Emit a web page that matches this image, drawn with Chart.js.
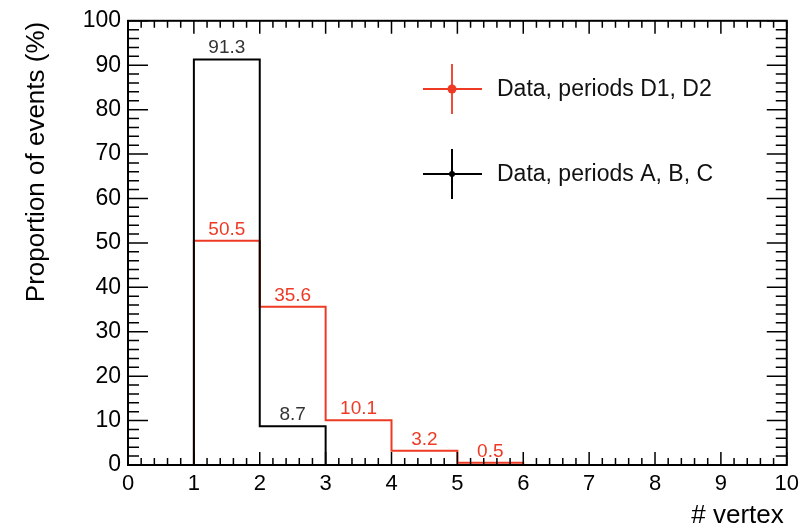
<!DOCTYPE html>
<html>
<head>
<meta charset="utf-8">
<script src="https://cdn.jsdelivr.net/npm/chart.js@4"></script>
<style>
  body { margin: 0; background: #fff; }
  canvas { display: block; }
</style>
</head>
<body>
<canvas id="vertexChart" width="805" height="528"></canvas>
<script>
// lower edges of the # vertex bins (each bin is 1 wide)
const binLow = [1, 2, 3, 4, 5];
const periodsD = [50.5, 35.6, 10.1, 3.2, 0.5];
const periodsABC = [91.3, 8.7];
const seriesNames = ['Data, periods D1, D2', 'Data, periods A, B, C'];
const xRange = [0, 10];
const yRange = [0, 100];

const RED = 'rgb(238,58,36)';
const FONT = '"Liberation Sans", Arial, sans-serif';

// histogram outline: up from 0, across each bin, back down to 0
function stepPoints(values) {
    const pts = [{ x: binLow[0], y: 0 }];
    values.forEach(function(v, i) {
        pts.push({ x: binLow[i], y: v }, { x: binLow[i] + 1, y: v });
    });
    pts.push({ x: binLow[values.length - 1] + 1, y: 0 });
    return pts;
}

const rootFrame = {
    id: 'rootFrame',
    afterDraw(chart) {
        const ctx = chart.ctx;
        const a = chart.chartArea;
        const xs = chart.scales.x, ys = chart.scales.y;
        ctx.save();
        ctx.strokeStyle = '#000';
        ctx.lineWidth = 1.5;
        ctx.beginPath();
        // x ticks, bottom and top, every 0.2
        for (let i = 0; i <= 50; i++) {
            const px = xs.getPixelForValue(i / 5);
            const len = i % 5 === 0 ? 13 : 7;
            ctx.moveTo(px, a.bottom); ctx.lineTo(px, a.bottom - len);
            ctx.moveTo(px, a.top); ctx.lineTo(px, a.top + len);
        }
        // y ticks, left and right, every 2
        for (let i = 0; i <= 50; i++) {
            const py = ys.getPixelForValue(i * 2);
            const len = i % 5 === 0 ? 20 : 11;
            ctx.moveTo(a.left, py); ctx.lineTo(a.left + len, py);
            ctx.moveTo(a.right, py); ctx.lineTo(a.right - len, py);
        }
        ctx.stroke();
        ctx.lineWidth = 2;
        ctx.strokeRect(a.left, a.top, a.right - a.left, a.bottom - a.top);

        // bin value labels
        ctx.font = '19px ' + FONT;
        ctx.textAlign = 'center';
        ctx.textBaseline = 'alphabetic';
        chart.data.datasets.forEach(function(ds) {
            ds.binValues.forEach(function(v, i) {
                ctx.fillStyle = ds.labelColor;
                ctx.fillText(v.toFixed(1), xs.getPixelForValue(binLow[i] + 0.5), ys.getPixelForValue(v) - 6);
            });
        });

        // axis titles
        ctx.fillStyle = '#000';
        ctx.font = '26px ' + FONT;
        ctx.textAlign = 'right';
        ctx.fillText('# vertex', a.right - 3, 523);
        ctx.save();
        ctx.translate(44, a.top + 1);
        ctx.rotate(-Math.PI / 2);
        ctx.fillText('Proportion of events (%)', 0, 0);
        ctx.restore();

        // legend with error-bar style markers
        const entries = [
            { name: seriesNames[0], color: RED, y: 89, r: 4.5, w: 1.8 },
            { name: seriesNames[1], color: '#000', y: 174, r: 3, w: 2 }
        ];
        entries.forEach(function(e) {
            ctx.strokeStyle = e.color;
            ctx.fillStyle = e.color;
            ctx.lineWidth = e.w;
            ctx.beginPath();
            ctx.moveTo(423, e.y); ctx.lineTo(482, e.y);
            ctx.moveTo(452, e.y - 25); ctx.lineTo(452, e.y + 25);
            ctx.stroke();
            ctx.beginPath();
            ctx.arc(452, e.y, e.r, 0, Math.PI * 2);
            ctx.fill();
            ctx.fillStyle = '#111';
            ctx.font = '23px ' + FONT;
            ctx.textAlign = 'left';
            ctx.textBaseline = 'middle';
            ctx.fillText(e.name, 497, e.y + 1);
        });
        ctx.restore();
    }
};

new Chart(document.getElementById('vertexChart').getContext('2d'), {
    type: 'scatter',
    data: {
        datasets: [{
            label: seriesNames[1],
            data: stepPoints(periodsABC),
            binValues: periodsABC,
            labelColor: '#333',
            showLine: true,
            borderColor: '#000',
            borderWidth: 2,
            pointRadius: 0,
            order: 0
        }, {
            label: seriesNames[0],
            data: stepPoints(periodsD),
            binValues: periodsD,
            labelColor: RED,
            showLine: true,
            borderColor: RED,
            borderWidth: 2,
            pointRadius: 0,
            order: 1
        }]
    },
    options: {
        responsive: false,
        animation: false,
        layout: { padding: { top: 17, right: 17, left: 0, bottom: 0 } },
        plugins: {
            legend: { display: false },
            tooltip: { enabled: false }
        },
        scales: {
            x: {
                type: 'linear',
                min: xRange[0],
                max: xRange[1],
                grid: { display: false, drawTicks: false },
                border: { display: false },
                ticks: {
                    stepSize: 1,
                    autoSkip: false,
                    maxRotation: 0,
                    padding: 6,
                    color: '#000',
                    font: { family: FONT, size: 22 }
                },
                afterFit: function(scale) { scale.height = 63; }
            },
            y: {
                min: yRange[0],
                max: yRange[1],
                grid: { display: false, drawTicks: false },
                border: { display: false },
                ticks: {
                    stepSize: 10,
                    autoSkip: false,
                    padding: 7,
                    color: '#000',
                    font: { family: FONT, size: 23 }
                },
                afterFit: function(scale) { scale.width = 128; }
            }
        }
    },
    plugins: [rootFrame]
});
</script>
</body>
</html>
